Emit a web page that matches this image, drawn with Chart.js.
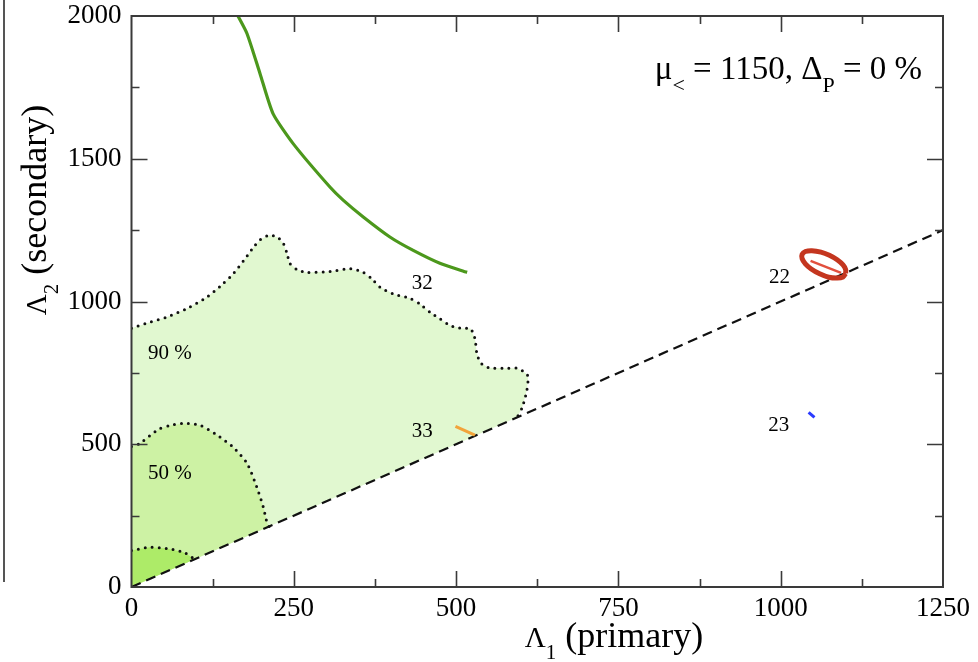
<!DOCTYPE html>
<html>
<head>
<meta charset="utf-8">
<script src="https://cdn.jsdelivr.net/npm/chart.js@4.4.1/dist/chart.umd.min.js"></script>
<style>
  html, body { margin: 0; padding: 0; background: #fff; }
  #wrap { position: relative; width: 978px; height: 662px; }
  #edge { position: absolute; left: 3px; top: 0; width: 2px; height: 582px; background: #555; }
</style>
</head>
<body>
<div id="wrap">
  <div id="edge"></div>
  <canvas id="c" width="978" height="662"></canvas>
</div>
<script>
// ============ Data ============
const X_MAX = 1250, Y_MAX = 2000;
const xTicks = [0, 250, 500, 750, 1000, 1250];
const yTicks = [0, 500, 1000, 1500, 2000];

// confidence contours, each runs from the left edge down to the diagonal
const cl90 = [[0,906],[25,925],[54,945],[85,975],[116,1015],[140,1060],[157,1098],[175,1150],[188,1190],[200,1220],
  [213,1232],[225,1225],[234,1203],[240,1165],[244,1133],[255,1112],[270,1102],[306,1105],[337,1115],[357,1102],
  [370,1080],[383,1050],[405,1025],[429,1011],[445,990],[460,962],[476,938],[491,916],[510,905],[522,906],
  [529,870],[532,818],[538,785],[550,768],[575,766],[594,766],[608,748],[611,735],[609,689],[602,630],[594,595],[590,590]];
const cl50 = [[0,492],[13,503],[28,530],[44,555],[60,566],[80,573],[106,566],[130,535],[157,489],[178,433],
  [193,350],[203,280],[209,223],[212,212]];
const clCore = [[0,128],[28,139],[54,135],[80,122],[93,104],[98,98]];

// model lines
const lim32 = [[164,2000],[178,1938],[198,1798],[218,1658],[249,1553],[306,1400],[326,1355],[357,1296],
  [398,1226],[434,1179],[475,1134],[517,1102]];
const diag = [[0,0],[1250,1250]];
const seg33 = [[499,563],[529,532]];
const seg23 = [[1043,612],[1052,594]];
const ring22 = [[1100,1098],[1096,1086],[1087,1082],[1074,1085],[1060,1097],[1047,1114],[1038,1132],[1033,1150],
  [1033,1165],[1038,1175],[1048,1178],[1062,1173],[1075,1162],[1087,1146],[1096,1128],[1100,1112],[1100,1098]];
const bar22 = [[1046,1142],[1093,1100]];

// in-plot labels
const tagText = ["90 %", "50 %", "32", "33", "22", "23"];
const tagX = [59, 59, 448, 448, 998, 997];
const tagY = [819, 398, 1063, 545, 1085, 567];

// ============ Helpers ============
const pts = (arr) => arr.map(([x, y]) => ({ x, y }));
const SERIF = '"Liberation Serif", "Times New Roman", serif';
Chart.defaults.font.family = SERIF;

function line(data, color, width, extra) {
  return Object.assign({
    data: pts(data), showLine: true, borderColor: color, borderWidth: width,
    pointRadius: 0, fill: false, tension: 0
  }, extra || {});
}
function area(data, color) {
  return {
    data: pts([[0, 0], ...data, [0, 0]]), showLine: true, borderColor: "transparent",
    borderWidth: 0, backgroundColor: color, pointRadius: 0, fill: "shape", tension: 0
  };
}
const dotted = { borderDash: [0, 7], borderCapStyle: "round", tension: 0.25 };

// draws text pieces in a row; [text, size, drop]
function drawRun(ctx, parts, x, y) {
  for (const [t, size, drop] of parts) {
    ctx.font = `${size}px ${SERIF}`;
    ctx.fillText(t, x, y + drop);
    x += ctx.measureText(t).width;
  }
}
function runWidth(ctx, parts) {
  let w = 0;
  for (const [t, size] of parts) { ctx.font = `${size}px ${SERIF}`; w += ctx.measureText(t).width; }
  return w;
}

// ============ Plugins ============
// frame with inward ticks on all four sides
const frame = {
  id: "frame",
  afterDatasetsDraw(chart) {
    const { ctx, chartArea: a, scales: { x, y } } = chart;
    ctx.save();
    ctx.strokeStyle = "#3a3a3a";
    ctx.lineWidth = 2;
    ctx.strokeRect(a.left, a.top, a.right - a.left, a.bottom - a.top);
    ctx.beginPath();
    for (let v = 125; v < X_MAX; v += 125) {
      const len = v % 250 ? 8 : 16, px = Math.round(x.getPixelForValue(v)) + 0.5;
      ctx.moveTo(px, a.bottom); ctx.lineTo(px, a.bottom - len);
      ctx.moveTo(px, a.top); ctx.lineTo(px, a.top + len);
    }
    for (let v = 250; v < Y_MAX; v += 250) {
      const len = v % 500 ? 8 : 16, py = Math.round(y.getPixelForValue(v)) + 0.5;
      ctx.moveTo(a.left, py); ctx.lineTo(a.left + len, py);
      ctx.moveTo(a.right, py); ctx.lineTo(a.right - len, py);
    }
    ctx.lineWidth = 1.6;
    ctx.stroke();
    ctx.restore();
  }
};

// axis titles, legend text and contour tags
const texts = {
  id: "texts",
  afterDraw(chart) {
    const { ctx, scales: { x, y } } = chart;
    ctx.save();
    ctx.fillStyle = "#000";

    ctx.textAlign = "center";
    ctx.textBaseline = "middle";
    ctx.font = `21px ${SERIF}`;
    tagText.forEach((t, i) => ctx.fillText(t, x.getPixelForValue(tagX[i]), y.getPixelForValue(tagY[i])));

    ctx.textAlign = "left";
    ctx.textBaseline = "alphabetic";
    const xTitle = [["Λ", 29, 0], ["1", 21, 12], [" (primary)", 36, 0]];
    drawRun(ctx, xTitle, 614 - runWidth(ctx, xTitle) / 2, 647);

    const yTitle = [["Λ", 29, 0], ["2", 21, 12], [" (secondary)", 36, 0]];
    ctx.save();
    ctx.translate(46, 210);
    ctx.rotate(-Math.PI / 2);
    drawRun(ctx, yTitle, -runWidth(ctx, yTitle) / 2, 0);
    ctx.restore();

    const note = [["μ", 33, 0], ["<", 22, 13], [" = 1150, Δ", 33, 0], ["P", 22, 13], [" = 0 %", 33, 0]];
    drawRun(ctx, note, 922 - runWidth(ctx, note), 79);
    ctx.restore();
  }
};

// ============ Chart ============
const plain = (v) => String(v);

new Chart(document.getElementById("c"), {
  type: "scatter",
  data: {
    datasets: [
      line(bar22, "#e2503e", 2.5),
      line(ring22, "#c4361f", 5, { tension: 0.4 }),
      line(seg23, "#2b3bff", 3),
      line(seg33, "#f2a33a", 3),
      line(lim32, "#4c981c", 3.2, { tension: 0.2 }),
      line(diag, "#111", 2.2, { borderDash: [10, 6] }),
      line(clCore, "#111", 3, dotted),
      line(cl50, "#111", 3, dotted),
      line(cl90, "#111", 3, dotted),
      area(clCore, "#adeb68"),
      area(cl50, "#cdf2a4"),
      area(cl90, "#e1f8d0")
    ]
  },
  options: {
    responsive: false,
    animation: false,
    layout: { padding: { top: 16, right: 35, left: 0, bottom: 0 } },
    plugins: { legend: { display: false }, tooltip: { enabled: false } },
    scales: {
      x: {
        type: "linear", min: 0, max: X_MAX,
        afterFit(s) { s.height = 75; s.paddingLeft = 0; s.paddingRight = 0; },
        afterBuildTicks(s) { s.ticks = xTicks.map(v => ({ value: v })); },
        grid: { display: false, drawTicks: false },
        border: { display: false },
        ticks: { color: "#000", padding: 6, maxRotation: 0, font: { size: 27 }, callback: plain }
      },
      y: {
        type: "linear", min: 0, max: Y_MAX,
        afterFit(s) { s.width = 131.5; s.paddingTop = 0; s.paddingBottom = 0; },
        afterBuildTicks(s) { s.ticks = yTicks.map(v => ({ value: v })); },
        grid: { display: false, drawTicks: false },
        border: { display: false },
        ticks: { color: "#000", padding: 10, font: { size: 27 }, callback: plain }
      }
    }
  },
  plugins: [frame, texts]
});
</script>
</body>
</html>
